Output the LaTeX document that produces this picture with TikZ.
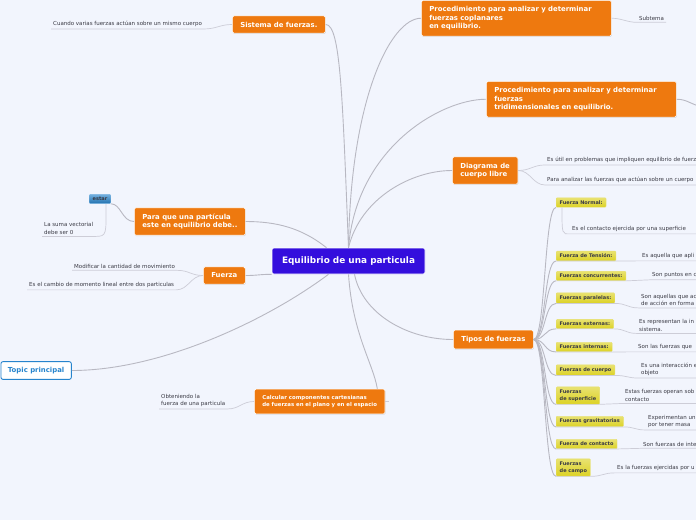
\documentclass[tikz,border=0pt]{standalone}
\usepackage{fontspec}
\setmainfont{DejaVu Sans}
\usepackage{xcolor}
\definecolor{MapBg}{RGB}{242,245,253}
\definecolor{MapOrange}{RGB}{238,121,15}
\definecolor{MapBlue}{RGB}{52,14,221}
\definecolor{MapYellow}{RGB}{220,210,36}
\definecolor{MapSky}{RGB}{38,132,205}
\definecolor{MapLine}{RGB}{184,184,194}
\definecolor{MapLeaf}{RGB}{205,205,215}
\definecolor{MapText}{RGB}{58,58,68}
\usetikzlibrary{calc, positioning, shadows}

\begin{document}
\begin{tikzpicture}[
    x=1pt, y=-1pt,
    central_box/.style={rectangle, rounded corners=2pt, fill=MapBlue, draw=white, line width=0.6pt, text=white, font=\fontsize{8.9}{10}\selectfont\bfseries, minimum width=153pt, minimum height=26pt},
    branch_box/.style={rectangle, rounded corners=1.5pt, fill=MapOrange, draw=white, line width=0.6pt, text=white, align=left, font=\fontsize{6.9}{8.6}\selectfont\bfseries, inner xsep=8pt, inner ysep=6pt, drop shadow={shadow xshift=0.5pt, shadow yshift=-0.8pt, opacity=0.25}},
    wide_branch/.style={branch_box, text width=174pt},
    small_branch/.style={branch_box, font=\fontsize{5.4}{7.6}\selectfont\bfseries},
    topic_box/.style={rectangle, rounded corners=2pt, fill=white, draw=MapSky, line width=0.9pt, text=MapSky, font=\fontsize{6.9}{8}\selectfont\bfseries, inner xsep=7pt, inner ysep=5.5pt},
    type_box/.style={rectangle, rounded corners=1pt, top color=MapYellow!65!white, bottom color=MapYellow, draw=MapYellow!70!white, text=MapText, align=left, font=\fontsize{5}{7}\selectfont\bfseries, inner xsep=3.5pt, inner ysep=2.8pt},
    estar_box/.style={type_box, top color=MapSky!65!white, bottom color=MapSky!85!black, draw=MapSky!60!white},
    leaf_text/.style={text=MapText, align=left, font=\fontsize{5.5}{7.2}\selectfont, inner sep=2pt},
    branch_line/.style={draw=MapLine, line width=0.9pt},
    leaf_line/.style={draw=MapLeaf, line width=0.7pt}
]

    % 1. BACKDROP
    \fill[MapBg] (0,0) rectangle (696,520);
    \useasboundingbox (0,0) rectangle (696,520);
    \coordinate (edge) at (697,0);

    % 2. CENTRAL TOPIC
    \node[central_box] (equilibrio) at (348.5,261) {Equilibrio de una particula};

    % 3. MAIN BRANCHES
    \node[branch_box, anchor=west] (sistema) at (232,24.5) {Sistema de fuerzas.};
    \node[wide_branch, anchor=north west] (coplanares) at (421,0) {Procedimiento para analizar y determinar\\fuerzas coplanares\\en equilibrio.};
    \node[wide_branch, anchor=north west] (tridimensional) at (486,81) {Procedimiento para analizar y determinar\\fuerzas\\tridimensionales en equilibrio.};
    \node[branch_box, anchor=west] (diagrama) at (452,170.5) {Diagrama de\\cuerpo libre};
    \node[branch_box, anchor=west] (para) at (134,221.5) {Para que una partícula\\este en equilibrio debe..};
    \node[branch_box, anchor=west] (fuerza) at (203,275.5) {Fuerza};
    \node[branch_box, anchor=west] (tipos) at (453,339.5) {Tipos de fuerzas};
    \node[small_branch, anchor=west] (calcular) at (254,401.5) {Calcular componentes cartesianas\\de fuerzas en el plano y en el espacio};
    \node[topic_box, anchor=west] (topic) at (0.5,370.5) {Topic principal};
    \node[estar_box, anchor=west] (estar) at (89,199) {estar};

    % 4. LEAVES
    \node[leaf_text, anchor=west] (sistema_leaf) at (51,24) {Cuando varias fuerzas actúan sobre un mismo cuerpo};
    \node[leaf_text, anchor=west] (subtema) at (637,18) {Subtema};
    \node[leaf_text, anchor=west] (util) at (545,160) {Es útil en problemas que impliquen equilibrio de fuerz};
    \node[leaf_text, anchor=west] (analizar) at (545,180) {Para analizar las fuerzas que actúan sobre un cuerpo};
    \node[leaf_text, anchor=west] (suma) at (42,228.5) {La suma vectorial\\debe ser 0};
    \node[leaf_text, anchor=west] (modificar) at (72,266) {Modificar la cantidad de movimiento};
    \node[leaf_text, anchor=west] (cambio) at (27,285) {Es el cambio de momento lineal entre dos particulas};
    \node[leaf_text, anchor=west] (obteniendo) at (159,400.5) {Obteniendo la\\fuerza de una particula};
    \coordinate (tri_stub) at (702,106);
    \coordinate (calc_stub) at ($(calcular.east)+(4,0)$);

    % 5. BRANCH LINES FROM THE CENTRE
    \draw[branch_line] (equilibrio.north) .. controls +(-6,-150) and +(15,0) .. (sistema.east);
    \draw[branch_line] (equilibrio.north) .. controls +(2,-150) and +(-30,0) .. (coplanares.west);
    \draw[branch_line] (equilibrio.north) .. controls +(8,-100) and +(-45,0) .. (tridimensional.west);
    \draw[branch_line] (equilibrio.north) .. controls +(12,-50) and +(-40,0) .. (diagrama.west);
    \draw[branch_line] ($(equilibrio.north)+(-22,0)$) .. controls +(-25,-20) and +(30,0) .. (para.east);
    \draw[branch_line] (equilibrio.south west) .. controls +(-12,0) and +(12,0) .. (fuerza.east);
    \draw[branch_line] ($(equilibrio.south)+(-20,0)$) .. controls +(-60,45) and +(90,0) .. (topic.east);
    \draw[branch_line] ($(equilibrio.south)+(6,0)$) .. controls +(8,40) and +(-45,0) .. (tipos.west);
    \draw[branch_line] (equilibrio.south) .. controls +(4,60) and +(-4,-25) .. ($(calcular.north east)+(-8,0)$);

    % 6. SUB-BRANCH LINES
    \draw[leaf_line] (sistema.west) .. controls +(-12,0) and +(12,0) .. (sistema_leaf.south east) -- (sistema_leaf.south west);
    \draw[leaf_line] (coplanares.east) .. controls +(10,0) and +(-10,0) .. (subtema.south west) -- (subtema.south east);
    \draw[branch_line] (tridimensional.east) .. controls +(12,0) and +(-10,0) .. (tri_stub);
    \draw[leaf_line] (diagrama.east) .. controls +(12,0) and +(-12,0) .. (util.south west) -- (util.south -| edge);
    \draw[leaf_line] (diagrama.east) .. controls +(12,0) and +(-12,0) .. (analizar.south west) -- (analizar.south -| edge);
    \draw[branch_line] (para.west) .. controls +(-12,0) and +(10,0) .. (estar.south east);
    \draw[leaf_line] ($(estar.south)+(6,0)$) .. controls +(0,30) and +(12,0) .. (suma.south east) -- (suma.south west);
    \draw[leaf_line] (fuerza.west) .. controls +(-12,0) and +(12,0) .. (modificar.south east) -- (modificar.south west);
    \draw[leaf_line] (fuerza.west) .. controls +(-12,0) and +(12,0) .. (cambio.south east) -- (cambio.south west);
    \draw[leaf_line] (calcular.west) .. controls +(-12,0) and +(12,0) .. (obteniendo.south east) -- (obteniendo.south west);
    \draw[leaf_line] (calcular.east) -- (calc_stub);

    % 7. TYPES OF FORCES
    \node[type_box, anchor=west] (t_normal) at (556,202.5) {Fuerza Normal:};
    \node[leaf_text, anchor=west] (l_normal) at (570,229) {Es el contacto ejercida por una superficie};
    \draw[branch_line] (tipos.east) .. controls +(12,0) and +(-12,0) .. (t_normal.south west);
    \draw[leaf_line] ($(t_normal.south west)+(6,0)$) .. controls +(0,28) and +(-8,0) .. (l_normal.south west) -- (l_normal.south -| edge);

    \foreach \tag/\yc/\lbl/\lx/\ly/\txt in {
        tension/256/{Fuerza de Tensión:}/640/256/{Es aquella que apli},
        concurrentes/276/{Fuerzas concurrentes:}/650/275/{Son puntos en c},
        paralelas/298/{Fuerzas paralelas:}/639/300/{Son aquellas que ac\\de acción en forma},
        externas/324/{Fuerzas externas:}/637/325.5/{Es representan la in\\sistema.},
        internas/347/{Fuerzas internas:}/636/347/{Son las fuerzas que},
        cuerpo/370/{Fuerzas de cuerpo}/639/369.5/{Es una interacción e\\objeto},
        superficie/395.5/{Fuerzas\\de superficie}/623/395.5/{Estas fuerzas operan sob\\contacto},
        gravitatorias/421.5/{Fuerzas gravitatorias}/646/421.5/{Experimentan un\\por tener masa},
        contacto/444/{Fuerza de contacto}/641/444/{Son fuerzas de inte},
        campo/467.5/{Fuerzas\\de campo}/615/468/{Es la fuerzas ejercidas por u}
    }{
        \node[type_box, anchor=west] (t_\tag) at (556,\yc) {\lbl};
        \node[leaf_text, anchor=west] (l_\tag) at (\lx,\ly) {\txt};
        \draw[branch_line] (tipos.east) .. controls +(12,0) and +(-12,0) .. (t_\tag.south west);
        \draw[leaf_line] (t_\tag.south west) -- (t_\tag.south east) .. controls +(12,0) and +(-12,0) .. (l_\tag.south west) -- (l_\tag.south -| edge);
    }

\end{tikzpicture}
\end{document}
